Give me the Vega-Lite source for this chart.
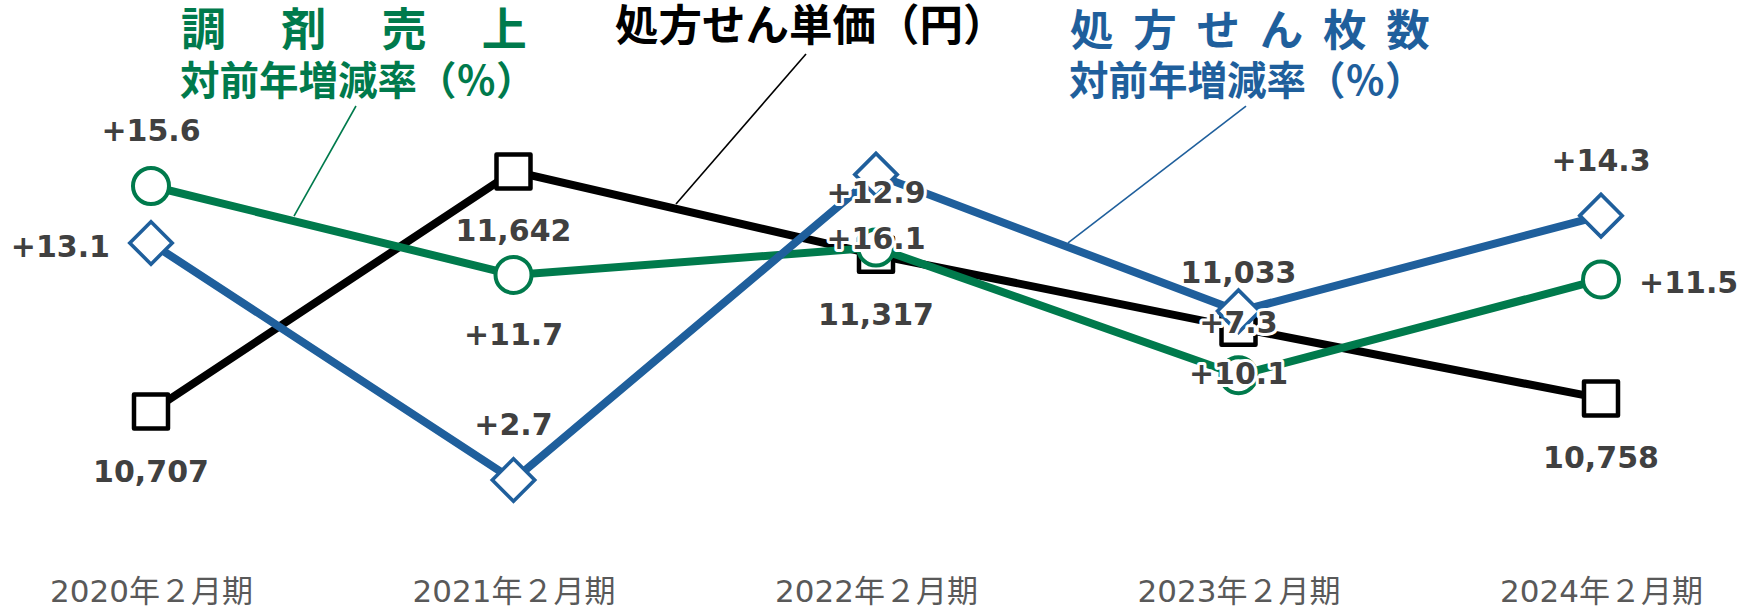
{
  "$schema": "https://vega.github.io/schema/vega-lite/v6.json",
  "width": 1740,
  "height": 570,
  "autosize": {"type": "none"},
  "padding": {"left": 0, "top": 0, "right": 0, "bottom": 37},
  "background": "white",
  "config": {"view": {"stroke": null}},
  "datasets": {
    "points": [
      {"i": 0, "period": "2020年２月期", "series": "単価", "value": 10707, "label": "10,707"},
      {"i": 1, "period": "2021年２月期", "series": "単価", "value": 11642, "label": "11,642"},
      {"i": 2, "period": "2022年２月期", "series": "単価", "value": 11317, "label": "11,317"},
      {"i": 3, "period": "2023年２月期", "series": "単価", "value": 11033, "label": "11,033"},
      {"i": 4, "period": "2024年２月期", "series": "単価", "value": 10758, "label": "10,758"},
      {"i": 0, "period": "2020年２月期", "series": "売上", "value": 15.6, "label": "+15.6"},
      {"i": 1, "period": "2021年２月期", "series": "売上", "value": 11.7, "label": "+11.7"},
      {"i": 2, "period": "2022年２月期", "series": "売上", "value": 12.9, "label": "+16.1"},
      {"i": 3, "period": "2023年２月期", "series": "売上", "value": 7.3, "label": "+10.1"},
      {"i": 4, "period": "2024年２月期", "series": "売上", "value": 11.5, "label": "+11.5"},
      {"i": 0, "period": "2020年２月期", "series": "枚数", "value": 13.1, "label": "+13.1"},
      {"i": 1, "period": "2021年２月期", "series": "枚数", "value": 2.7, "label": "+2.7"},
      {"i": 2, "period": "2022年２月期", "series": "枚数", "value": 16.1, "label": "+12.9"},
      {"i": 3, "period": "2023年２月期", "series": "枚数", "value": 10.1, "label": "+7.3"},
      {"i": 4, "period": "2024年２月期", "series": "枚数", "value": 14.3, "label": "+14.3"}
    ]
  },
  "data": {"name": "points"},
  "encoding": {
    "x": {
      "field": "i", "type": "quantitative", "title": null,
      "scale": {"domain": [-0.41655, 4.38345], "nice": false, "zero": false},
      "axis": {
        "values": [0, 1, 2, 3, 4],
        "labelExpr": "['2020年２月期','2021年２月期','2022年２月期','2023年２月期','2024年２月期'][datum.value]",
        "domain": false, "ticks": false, "grid": false,
        "labelFont": "DejaVu Sans, Noto Sans CJK JP", "labelFontSize": 31, "labelColor": "#595959",
        "labelPadding": 7, "labelFlush": false, "labelOverlap": false, "labelBaseline": "top", "labelLimit": 0
      }
    }
  },
  "layer": [
    {
      "data": {"values": [
        {"series": "売上", "i": 0.5655, "y": 19.11, "i2": 0.3945, "y2": 14.28},
        {"series": "単価", "i": 1.8069, "y": 21.39, "i2": 1.4483, "y2": 14.81},
        {"series": "枚数", "i": 3.0207, "y": 19.11, "i2": 2.5297, "y2": 13.10}
      ]},
      "mark": {"type": "rule", "strokeWidth": 1.6},
      "encoding": {
        "y": {"field": "y", "type": "quantitative", "scale": {"domain": [-1.249, 23.7615], "nice": false, "zero": false}, "axis": null},
        "x2": {"field": "i2"},
        "y2": {"field": "y2"},
        "color": {"field": "series", "type": "nominal", "scale": {"domain": ["単価", "売上", "枚数"], "range": ["#000000", "#007A4C", "#1F5F9C"]}, "legend": null}
      }
    },
    {
      "data": {"values": [{"text": "調　 剤　 売　 上", "i": 0.0828, "y": 22.357}]},
      "mark": {"type": "text", "font": "Noto Sans CJK JP", "fontWeight": "bold", "fontSize": 45, "align": "left", "baseline": "middle", "color": "#007A4C"},
      "encoding": {
        "y": {"field": "y", "type": "quantitative", "scale": {"domain": [-1.249, 23.7615], "nice": false, "zero": false}, "axis": null},
        "text": {"field": "text"}
      }
    },
    {
      "data": {"values": [{"text": "対前年増減率（％）", "i": 0.08, "y": 20.12}]},
      "mark": {"type": "text", "font": "Noto Sans CJK JP", "fontWeight": "bold", "fontSize": 39.5, "align": "left", "baseline": "middle", "color": "#007A4C"},
      "encoding": {
        "y": {"field": "y", "type": "quantitative", "scale": {"domain": [-1.249, 23.7615], "nice": false, "zero": false}, "axis": null},
        "text": {"field": "text"}
      }
    },
    {
      "data": {"values": [{"text": "処方せん単価（円）", "i": 1.28, "y": 22.533}]},
      "mark": {"type": "text", "font": "Noto Sans CJK JP", "fontWeight": "bold", "fontSize": 43.5, "align": "left", "baseline": "middle", "color": "#000000"},
      "encoding": {
        "y": {"field": "y", "type": "quantitative", "scale": {"domain": [-1.249, 23.7615], "nice": false, "zero": false}, "axis": null},
        "text": {"field": "text"}
      }
    },
    {
      "data": {"values": [{"text": "処\u00a0\u00a0方\u00a0\u00a0せ\u00a0\u00a0ん\u00a0\u00a0枚\u00a0\u00a0数", "i": 2.5352, "y": 22.335}]},
      "mark": {"type": "text", "font": "Noto Sans CJK JP", "fontWeight": "bold", "fontSize": 43.5, "align": "left", "baseline": "middle", "color": "#1F5F9C"},
      "encoding": {
        "y": {"field": "y", "type": "quantitative", "scale": {"domain": [-1.249, 23.7615], "nice": false, "zero": false}, "axis": null},
        "text": {"field": "text"}
      }
    },
    {
      "data": {"values": [{"text": "対前年増減率（％）", "i": 2.5324, "y": 20.12}]},
      "mark": {"type": "text", "font": "Noto Sans CJK JP", "fontWeight": "bold", "fontSize": 39.5, "align": "left", "baseline": "middle", "color": "#1F5F9C"},
      "encoding": {
        "y": {"field": "y", "type": "quantitative", "scale": {"domain": [-1.249, 23.7615], "nice": false, "zero": false}, "axis": null},
        "text": {"field": "text"}
      }
    },
    {
      "transform": [{"filter": "datum.series == '単価'"}],
      "mark": {"type": "line", "strokeWidth": 8},
      "encoding": {
        "y": {"field": "value", "type": "quantitative", "scale": {"domain": [10090, 12309.3], "nice": false, "zero": false}, "axis": null},
        "color": {"field": "series", "type": "nominal", "scale": {"domain": ["単価", "売上", "枚数"], "range": ["#000000", "#007A4C", "#1F5F9C"]}, "legend": null}
      }
    },
    {
      "transform": [{"filter": "datum.series == '単価'"}],
      "mark": {"type": "point", "shape": "square", "size": 1156, "filled": true, "fill": "white", "strokeWidth": 4.5, "opacity": 1, "strokeJoin": "round"},
      "encoding": {
        "y": {"field": "value", "type": "quantitative", "scale": {"domain": [10090, 12309.3], "nice": false, "zero": false}, "axis": null},
        "stroke": {"field": "series", "type": "nominal", "scale": {"domain": ["単価", "売上", "枚数"], "range": ["#000000", "#007A4C", "#1F5F9C"]}, "legend": null}
      }
    },
    {
      "transform": [{"filter": "datum.series == '売上'"}],
      "mark": {"type": "line", "strokeWidth": 8},
      "encoding": {
        "y": {"field": "value", "type": "quantitative", "scale": {"domain": [-1.249, 23.7615], "nice": false, "zero": false}, "axis": null},
        "color": {"field": "series", "type": "nominal", "scale": {"domain": ["単価", "売上", "枚数"], "range": ["#000000", "#007A4C", "#1F5F9C"]}, "legend": null}
      }
    },
    {
      "transform": [{"filter": "datum.series == '売上'"}],
      "mark": {"type": "point", "shape": "circle", "size": 1296, "filled": true, "fill": "white", "strokeWidth": 4, "opacity": 1},
      "encoding": {
        "y": {"field": "value", "type": "quantitative", "scale": {"domain": [-1.249, 23.7615], "nice": false, "zero": false}, "axis": null},
        "stroke": {"field": "series", "type": "nominal", "scale": {"domain": ["単価", "売上", "枚数"], "range": ["#000000", "#007A4C", "#1F5F9C"]}, "legend": null}
      }
    },
    {
      "transform": [{"filter": "datum.series == '枚数'"}],
      "mark": {"type": "line", "strokeWidth": 8},
      "encoding": {
        "y": {"field": "value", "type": "quantitative", "scale": {"domain": [-1.249, 23.7615], "nice": false, "zero": false}, "axis": null},
        "color": {"field": "series", "type": "nominal", "scale": {"domain": ["単価", "売上", "枚数"], "range": ["#000000", "#007A4C", "#1F5F9C"]}, "legend": null}
      }
    },
    {
      "transform": [{"filter": "datum.series == '枚数'"}],
      "mark": {"type": "point", "shape": "diamond", "size": 1800, "filled": true, "fill": "white", "strokeWidth": 3.6, "opacity": 1},
      "encoding": {
        "y": {"field": "value", "type": "quantitative", "scale": {"domain": [-1.249, 23.7615], "nice": false, "zero": false}, "axis": null},
        "stroke": {"field": "series", "type": "nominal", "scale": {"domain": ["単価", "売上", "枚数"], "range": ["#000000", "#007A4C", "#1F5F9C"]}, "legend": null}
      }
    },
    {
      "transform": [{"filter": "datum.series == '単価' && datum.i == 3"}],
      "encoding": {
        "y": {"field": "value", "type": "quantitative", "scale": {"domain": [10090, 12309.3], "nice": false, "zero": false}, "axis": null},
        "text": {"field": "label"}
      },
      "layer": [
        {"mark": {"type": "text", "font": "DejaVu Sans", "fontWeight": "bold", "fontSize": 30, "baseline": "middle", "align": "center", "dy": -54, "fill": "white", "stroke": "white", "strokeWidth": 6, "strokeJoin": "round"}},
        {"mark": {"type": "text", "font": "DejaVu Sans", "fontWeight": "bold", "fontSize": 30, "baseline": "middle", "align": "center", "dy": -54, "fill": "#404040"}}
      ]
    },
    {
      "transform": [{"filter": "datum.series == '単価' && datum.i != 3"}],
      "encoding": {
        "y": {"field": "value", "type": "quantitative", "scale": {"domain": [10090, 12309.3], "nice": false, "zero": false}, "axis": null},
        "text": {"field": "label"}
      },
      "layer": [
        {"mark": {"type": "text", "font": "DejaVu Sans", "fontWeight": "bold", "fontSize": 30, "baseline": "middle", "align": "center", "dy": 61, "fill": "white", "stroke": "white", "strokeWidth": 6, "strokeJoin": "round"}},
        {"mark": {"type": "text", "font": "DejaVu Sans", "fontWeight": "bold", "fontSize": 30, "baseline": "middle", "align": "center", "dy": 61, "fill": "#404040"}}
      ]
    },
    {
      "transform": [{"filter": "(datum.series == '売上' && datum.i == 0) || (datum.series == '枚数' && (datum.i == 1 || datum.i == 4))"}],
      "encoding": {
        "y": {"field": "value", "type": "quantitative", "scale": {"domain": [-1.249, 23.7615], "nice": false, "zero": false}, "axis": null},
        "text": {"field": "label"}
      },
      "layer": [
        {"mark": {"type": "text", "font": "DejaVu Sans", "fontWeight": "bold", "fontSize": 30, "baseline": "middle", "align": "center", "dy": -54, "fill": "white", "stroke": "white", "strokeWidth": 6, "strokeJoin": "round"}},
        {"mark": {"type": "text", "font": "DejaVu Sans", "fontWeight": "bold", "fontSize": 30, "baseline": "middle", "align": "center", "dy": -54, "fill": "#404040"}}
      ]
    },
    {
      "transform": [{"filter": "datum.series == '売上' && datum.i == 1"}],
      "encoding": {
        "y": {"field": "value", "type": "quantitative", "scale": {"domain": [-1.249, 23.7615], "nice": false, "zero": false}, "axis": null},
        "text": {"field": "label"}
      },
      "layer": [
        {"mark": {"type": "text", "font": "DejaVu Sans", "fontWeight": "bold", "fontSize": 30, "baseline": "middle", "align": "center", "dy": 61, "fill": "white", "stroke": "white", "strokeWidth": 6, "strokeJoin": "round"}},
        {"mark": {"type": "text", "font": "DejaVu Sans", "fontWeight": "bold", "fontSize": 30, "baseline": "middle", "align": "center", "dy": 61, "fill": "#404040"}}
      ]
    },
    {
      "transform": [{"filter": "datum.series == '枚数' && datum.i == 0"}],
      "encoding": {
        "y": {"field": "value", "type": "quantitative", "scale": {"domain": [-1.249, 23.7615], "nice": false, "zero": false}, "axis": null},
        "text": {"field": "label"}
      },
      "layer": [
        {"mark": {"type": "text", "font": "DejaVu Sans", "fontWeight": "bold", "fontSize": 30, "baseline": "middle", "align": "right", "dx": -41, "dy": 5, "fill": "#404040"}}
      ]
    },
    {
      "transform": [{"filter": "datum.series == '売上' && datum.i == 4"}],
      "encoding": {
        "y": {"field": "value", "type": "quantitative", "scale": {"domain": [-1.249, 23.7615], "nice": false, "zero": false}, "axis": null},
        "text": {"field": "label"}
      },
      "layer": [
        {"mark": {"type": "text", "font": "DejaVu Sans", "fontWeight": "bold", "fontSize": 30, "baseline": "middle", "align": "left", "dx": 38, "dy": 5, "fill": "#404040"}}
      ]
    },
    {
      "transform": [{"filter": "datum.series == '売上' && datum.i == 2"}],
      "encoding": {
        "y": {"field": "value", "type": "quantitative", "scale": {"domain": [-1.249, 23.7615], "nice": false, "zero": false}, "axis": null},
        "text": {"field": "label"}
      },
      "layer": [
        {"mark": {"type": "text", "font": "DejaVu Sans", "fontWeight": "bold", "fontSize": 30, "baseline": "middle", "align": "center", "dy": -8, "fill": "white", "stroke": "white", "strokeWidth": 6, "strokeJoin": "round"}},
        {"mark": {"type": "text", "font": "DejaVu Sans", "fontWeight": "bold", "fontSize": 30, "baseline": "middle", "align": "center", "dy": -8, "fill": "#404040"}}
      ]
    },
    {
      "transform": [{"filter": "datum.series == '枚数' && datum.i == 2"}],
      "encoding": {
        "y": {"field": "value", "type": "quantitative", "scale": {"domain": [-1.249, 23.7615], "nice": false, "zero": false}, "axis": null},
        "text": {"field": "label"}
      },
      "layer": [
        {"mark": {"type": "text", "font": "DejaVu Sans", "fontWeight": "bold", "fontSize": 30, "baseline": "middle", "align": "center", "dy": 19, "fill": "white", "stroke": "white", "strokeWidth": 6, "strokeJoin": "round"}},
        {"mark": {"type": "text", "font": "DejaVu Sans", "fontWeight": "bold", "fontSize": 30, "baseline": "middle", "align": "center", "dy": 19, "fill": "#404040"}}
      ]
    },
    {
      "transform": [{"filter": "datum.series == '枚数' && datum.i == 3"}],
      "encoding": {
        "y": {"field": "value", "type": "quantitative", "scale": {"domain": [-1.249, 23.7615], "nice": false, "zero": false}, "axis": null},
        "text": {"field": "label"}
      },
      "layer": [
        {"mark": {"type": "text", "font": "DejaVu Sans", "fontWeight": "bold", "fontSize": 30, "baseline": "middle", "align": "center", "dy": 13, "fill": "white", "stroke": "white", "strokeWidth": 6, "strokeJoin": "round"}},
        {"mark": {"type": "text", "font": "DejaVu Sans", "fontWeight": "bold", "fontSize": 30, "baseline": "middle", "align": "center", "dy": 13, "fill": "#404040"}}
      ]
    },
    {
      "transform": [{"filter": "datum.series == '売上' && datum.i == 3"}],
      "encoding": {
        "y": {"field": "value", "type": "quantitative", "scale": {"domain": [-1.249, 23.7615], "nice": false, "zero": false}, "axis": null},
        "text": {"field": "label"}
      },
      "layer": [
        {"mark": {"type": "text", "font": "DejaVu Sans", "fontWeight": "bold", "fontSize": 30, "baseline": "middle", "align": "center", "dy": 0, "fill": "white", "stroke": "white", "strokeWidth": 6, "strokeJoin": "round"}},
        {"mark": {"type": "text", "font": "DejaVu Sans", "fontWeight": "bold", "fontSize": 30, "baseline": "middle", "align": "center", "dy": 0, "fill": "#404040"}}
      ]
    }
  ],
  "resolve": {"scale": {"y": "independent"}}
}
